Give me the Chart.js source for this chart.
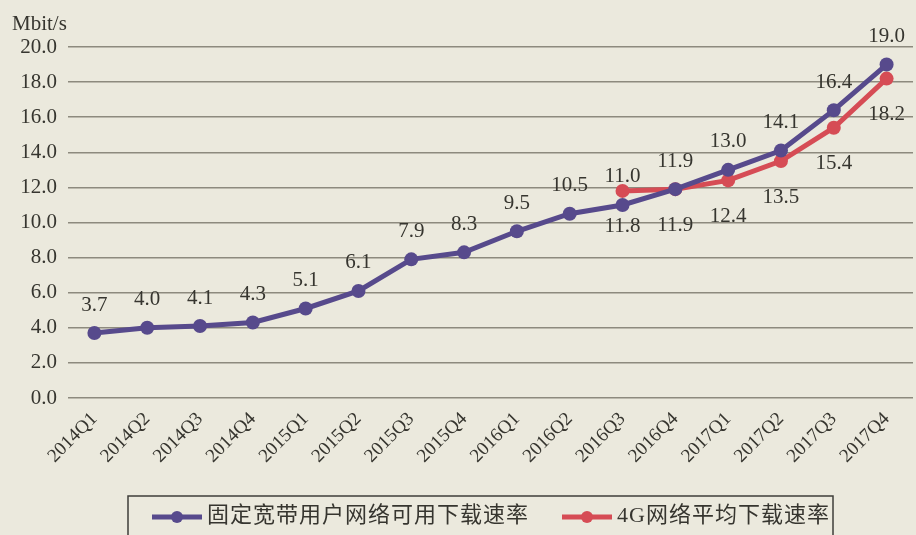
<!DOCTYPE html>
<html>
<head>
<meta charset="utf-8">
<script src="https://cdn.jsdelivr.net/npm/chart.js@4"></script>
<style>
  html, body { margin: 0; padding: 0; background: #ebe9dd; overflow: hidden; }
  #wrap { width: 916px; height: 535px; overflow: hidden; }
</style>
</head>
<body>
<div id="wrap"><canvas id="speedChart" width="920" height="535"></canvas></div>
<script>
const quarters = ["2014Q1", "2014Q2", "2014Q3", "2014Q4", "2015Q1", "2015Q2", "2015Q3", "2015Q4",
  "2016Q1", "2016Q2", "2016Q3", "2016Q4", "2017Q1", "2017Q2", "2017Q3", "2017Q4"];
const fixedBroadband = [3.7, 4.0, 4.1, 4.3, 5.1, 6.1, 7.9, 8.3, 9.5, 10.5, 11.0, 11.9, 13.0, 14.1, 16.4, 19.0];
const mobile4G = [null, null, null, null, null, null, null, null, null, null, 11.8, 11.9, 12.4, 13.5, 15.4, 18.2];
const seriesNames = ["固定宽带用户网络可用下载速率", "4G网络平均下载速率"];
const yUnit = "Mbit/s";

const purple = "#574a8c";
const red = "#d64c55";
const textColor = "#36352f";
const serif = "'Liberation Serif', 'DejaVu Serif', serif";
const cjk = "'Liberation Serif', 'Noto Sans CJK SC', serif";

// value labels: first series above the points, second series below
const valueLabels = {
  id: "valueLabels",
  afterDatasetsDraw(chart) {
    const ctx = chart.ctx;
    ctx.save();
    ctx.font = "21px " + serif;
    ctx.fillStyle = textColor;
    ctx.textAlign = "center";
    ctx.textBaseline = "middle";
    chart.data.datasets.forEach((ds, i) => {
      const meta = chart.getDatasetMeta(i);
      meta.data.forEach((pt, j) => {
        const v = ds.data[j];
        if (v === null) return;
        const dy = i === 0 ? -28 : 36;
        ctx.fillText(v.toFixed(1), pt.x, pt.y + dy);
      });
    });
    ctx.restore();
  }
};

// unit label and the boxed legend at the bottom
const extras = {
  id: "extras",
  afterDraw(chart) {
    const ctx = chart.ctx;
    ctx.save();
    ctx.font = "21px " + serif;
    ctx.fillStyle = textColor;
    ctx.textAlign = "left";
    ctx.textBaseline = "middle";
    ctx.fillText(yUnit, 12, 24);

    ctx.strokeStyle = "#3f3e3a";
    ctx.lineWidth = 1.5;
    ctx.strokeRect(128, 496, 705, 60);

    const items = [
      { x: 152, color: purple, name: seriesNames[0] },
      { x: 562, color: red, name: seriesNames[1] }
    ];
    items.forEach(it => {
      ctx.strokeStyle = it.color;
      ctx.lineWidth = 5;
      ctx.beginPath();
      ctx.moveTo(it.x, 517);
      ctx.lineTo(it.x + 50, 517);
      ctx.stroke();
      ctx.fillStyle = it.color;
      ctx.beginPath();
      ctx.arc(it.x + 25, 517, 6, 0, Math.PI * 2);
      ctx.fill();
      ctx.fillStyle = textColor;
      ctx.font = "22px " + cjk;
      ctx.letterSpacing = "1px";
      ctx.fillText(it.name, it.x + 55, 516);
    });
    ctx.restore();
  }
};

const chart = new Chart(document.getElementById("speedChart"), {
  type: "line",
  data: {
    labels: quarters,
    datasets: [
      {
        label: seriesNames[0],
        data: fixedBroadband,
        borderColor: purple,
        backgroundColor: purple,
        borderWidth: 5,
        pointRadius: 7,
        pointBorderWidth: 0,
        pointBackgroundColor: purple,
        tension: 0
      },
      {
        label: seriesNames[1],
        data: mobile4G,
        borderColor: red,
        backgroundColor: red,
        borderWidth: 5,
        pointRadius: 7,
        pointBorderWidth: 0,
        pointBackgroundColor: red,
        tension: 0
      }
    ]
  },
  options: {
    responsive: false,
    animation: false,
    layout: { padding: { top: 47, left: 0, right: 0, bottom: 0 } },
    plugins: {
      legend: { display: false },
      tooltip: { enabled: false }
    },
    scales: {
      x: {
        offset: true,
        grid: { display: false },
        border: { display: false },
        ticks: {
          color: textColor,
          font: { family: serif, size: 19 },
          minRotation: 45,
          maxRotation: 45,
          padding: 2
        },
        afterFit(scale) { scale.height = 137; }
      },
      y: {
        min: 0,
        max: 20,
        border: { display: false },
        grid: { color: "#8d8a7e", lineWidth: 1.5, drawTicks: false },
        ticks: {
          stepSize: 2,
          color: textColor,
          font: { family: serif, size: 21 },
          padding: 11,
          callback: v => v.toFixed(1)
        },
        afterFit(scale) { scale.width = 68; }
      }
    }
  },
  plugins: [valueLabels, extras]
});
</script>
</body>
</html>
